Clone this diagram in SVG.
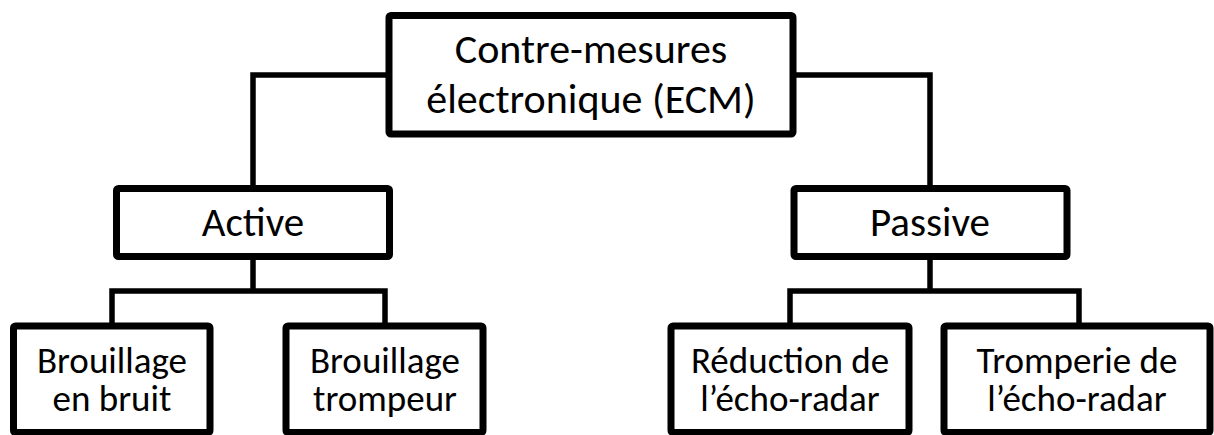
<svg xmlns="http://www.w3.org/2000/svg" width="1214" height="435" viewBox="0 0 1214 435">
<style>
.box{fill:#fff;stroke:#000;stroke-width:7}
.con{fill:none;stroke:#000;stroke-width:5.5;stroke-linejoin:miter}
text{font-family:"Carlito","Liberation Sans",Arial,sans-serif;fill:#000;text-anchor:middle}
.t1{font-size:42px}
.t2{font-size:41px}
.t3{font-size:37px}
</style>
<rect width="1214" height="435" fill="#fff"/>
<g id="connectors">
<path class="con" d="M389 75 H253 V188.5"/>
<path class="con" d="M793 75 H930 V188.5"/>
<path class="con" d="M253 256.5 V291"/>
<path class="con" d="M112 326 V291 H385 V326"/>
<path class="con" d="M930 256.5 V291"/>
<path class="con" d="M790 326 V291 H1079 V326"/>
</g>
<g id="ecm">
<rect class="box" x="389" y="15.5" width="404" height="118.5" rx="2"/>
<text class="t1" x="591" y="63">Contre-mesures</text>
<text class="t1" x="591" y="113">électronique (ECM)</text>
</g>
<g id="active">
<rect class="box" x="116.5" y="188.5" width="273" height="68" rx="2"/>
<text class="t2" x="253" y="236">Active</text>
</g>
<g id="passive">
<rect class="box" x="794" y="188.5" width="273" height="68" rx="2"/>
<text class="t2" x="930" y="236">Passive</text>
</g>
<g id="bruit">
<rect class="box" x="13.5" y="326" width="196.5" height="106.5" rx="2"/>
<text class="t3" x="112" y="373">Brouillage</text>
<text class="t3" x="112" y="411">en bruit</text>
</g>
<g id="trompeur">
<rect class="box" x="286" y="326" width="197" height="106.5" rx="2"/>
<text class="t3" x="385" y="373">Brouillage</text>
<text class="t3" x="385" y="411">trompeur</text>
</g>
<g id="reduction">
<rect class="box" x="671" y="326" width="238" height="106.5" rx="2"/>
<text class="t3" x="790" y="373">Réduction de</text>
<text class="t3" x="790" y="411">l’écho-radar</text>
</g>
<g id="tromperie">
<rect class="box" x="944" y="326" width="266" height="106.5" rx="2"/>
<text class="t3" x="1077" y="373">Tromperie de</text>
<text class="t3" x="1077" y="411">l’écho-radar</text>
</g>
</svg>
